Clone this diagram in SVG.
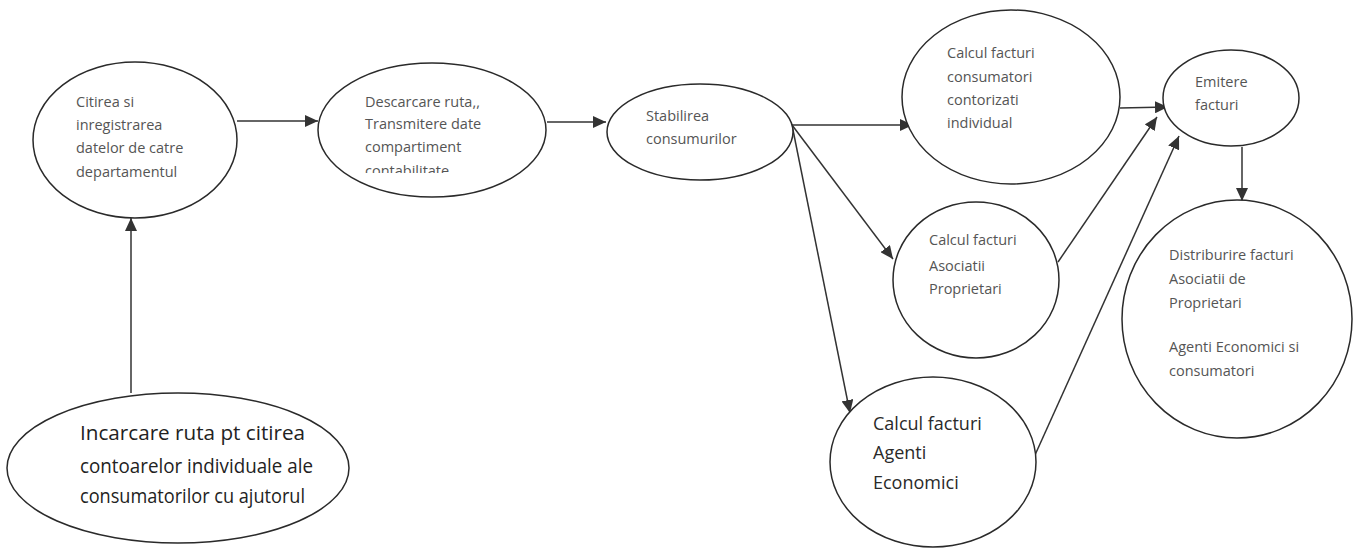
<svg xmlns="http://www.w3.org/2000/svg" width="1354" height="550" viewBox="0 0 1354 550">
<style>
.n{fill:#fff;stroke:#2a2a2a;stroke-width:1.5}
.t{font-family:"Open Sans","Noto Sans",sans-serif;font-size:14.5px;fill:#555}
.b{font-family:"Open Sans","Noto Sans",sans-serif;font-size:19.5px;fill:#222}
.m{font-family:"Open Sans","Noto Sans",sans-serif;font-size:18px;fill:#2a2a2a}
.c{stroke:#333;stroke-width:1.5;fill:none;marker-end:url(#ah)}
</style>
<defs>
<marker id="ah" markerUnits="userSpaceOnUse" markerWidth="14" markerHeight="12" refX="13" refY="6" orient="auto">
<path d="M0,0 L13,6 L0,12 Z" fill="#333"/>
</marker>
<clipPath id="cl2"><rect x="300" y="60" width="260" height="113"/></clipPath>
</defs>
<rect width="1354" height="550" fill="#fff"/>
<g id="connectors">
<line class="c" x1="237" y1="121" x2="318" y2="121"/>
<line class="c" x1="547" y1="122" x2="606" y2="122"/>
<line class="c" x1="792" y1="125" x2="913" y2="125"/>
<line class="c" x1="792" y1="125" x2="893" y2="259"/>
<line class="c" x1="792" y1="125" x2="850" y2="413"/>
<line class="c" x1="1120" y1="108" x2="1168" y2="107"/>
<line class="c" x1="1058" y1="262" x2="1157" y2="117"/>
<line class="c" x1="1035" y1="455" x2="1179" y2="136"/>
<line class="c" x1="1242" y1="147" x2="1242" y2="201"/>
<line class="c" x1="131" y1="393" x2="131" y2="218"/>
</g>
<g id="n1">
<ellipse class="n" cx="135" cy="140" rx="102" ry="78"/>
<text class="t" x="76" y="107">Citirea si</text>
<text class="t" x="76" y="130">inregistrarea</text>
<text class="t" x="76" y="153">datelor de catre</text>
<text class="t" x="76" y="177">departamentul</text>
</g>
<g id="n2">
<ellipse class="n" cx="432" cy="130" rx="114" ry="67"/>
<text class="t" x="365" y="107">Descarcare ruta,,</text>
<text class="t" x="365" y="129">Transmitere date</text>
<text class="t" x="365" y="152">compartiment</text>
<text class="t" x="365" y="176" clip-path="url(#cl2)">contabilitate</text>
</g>
<g id="n3">
<ellipse class="n" cx="700" cy="132" rx="93" ry="48"/>
<text class="t" x="646" y="121">Stabilirea</text>
<text class="t" x="646" y="144">consumurilor</text>
</g>
<g id="n4">
<ellipse class="n" cx="1011" cy="97" rx="109" ry="87"/>
<text class="t" x="947" y="58">Calcul facturi</text>
<text class="t" x="947" y="82">consumatori</text>
<text class="t" x="947" y="105">contorizati</text>
<text class="t" x="947" y="128">individual</text>
</g>
<g id="n5">
<ellipse class="n" cx="1231" cy="98" rx="68" ry="48"/>
<text class="t" x="1195" y="87">Emitere</text>
<text class="t" x="1195" y="110">facturi</text>
</g>
<g id="n6">
<ellipse class="n" cx="976" cy="280" rx="83" ry="78"/>
<text class="t" x="929" y="245">Calcul facturi</text>
<text class="t" x="929" y="271">Asociatii</text>
<text class="t" x="929" y="294">Proprietari</text>
</g>
<g id="n7">
<ellipse class="n" cx="933" cy="462" rx="103" ry="85"/>
<text class="m" x="873" y="430">Calcul facturi</text>
<text class="m" x="873" y="459">Agenti</text>
<text class="m" x="873" y="489">Economici</text>
</g>
<g id="n8">
<ellipse class="n" cx="1237" cy="319" rx="115" ry="119"/>
<text class="t" x="1169" y="260">Distriburire facturi</text>
<text class="t" x="1169" y="284">Asociatii de</text>
<text class="t" x="1169" y="308">Proprietari</text>
<text class="t" x="1169" y="352">Agenti Economici si</text>
<text class="t" x="1169" y="376">consumatori</text>
</g>
<g id="n9">
<ellipse class="n" cx="178" cy="468" rx="171" ry="75"/>
<text class="b" x="80" y="440" textLength="225" lengthAdjust="spacingAndGlyphs">Incarcare ruta pt citirea</text>
<text class="b" x="80" y="473" textLength="233" lengthAdjust="spacingAndGlyphs">contoarelor individuale ale</text>
<text class="b" x="80" y="503" textLength="225" lengthAdjust="spacingAndGlyphs">consumatorilor cu ajutorul</text>
</g>
</svg>
